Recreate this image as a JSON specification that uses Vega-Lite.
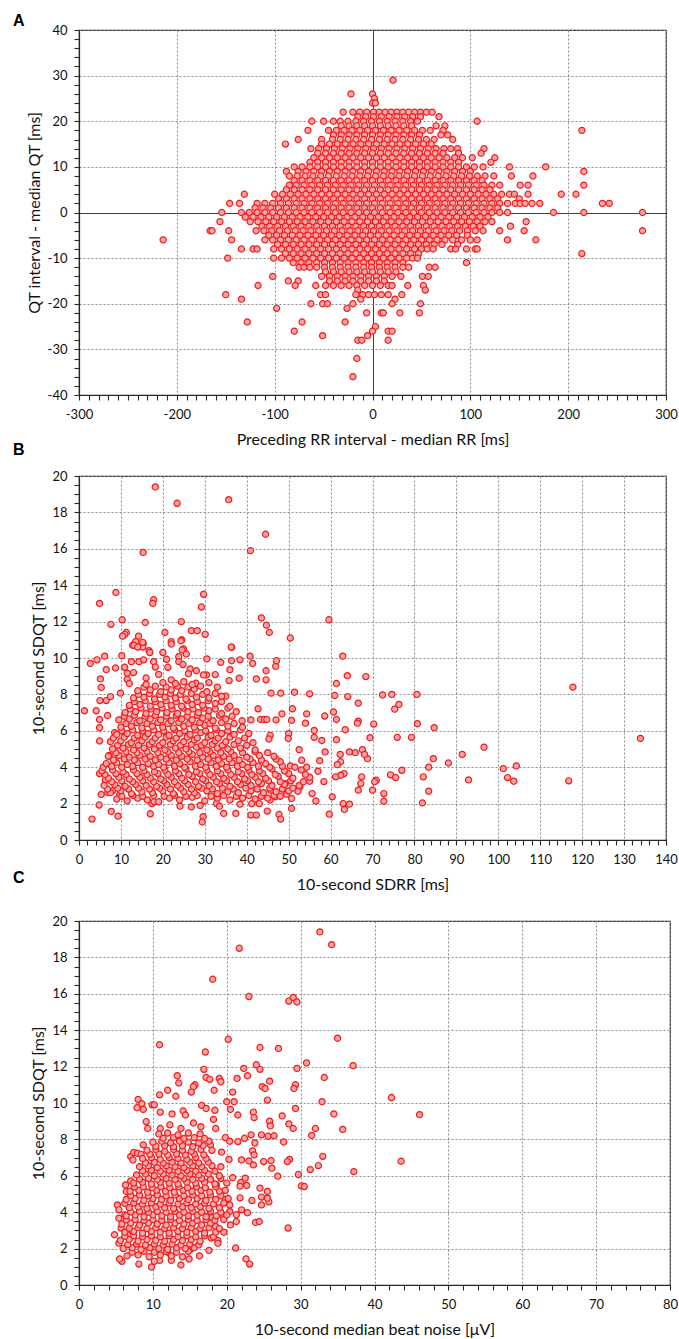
{
"$schema": "https://vega.github.io/schema/vega-lite/v6.json",
"background": "white",
"padding": {"left": 12, "top": 12, "right": 0, "bottom": 2},
"columns": 1,
"spacing": {"row": -7},
"align": "none",
"bounds": "full",
"config": {
"font": "Lato",
"view": {"stroke": "#262626", "strokeWidth": 1.2},
"axis": {"domainColor": "#262626", "domainWidth": 1.2, "tickColor": "#262626", "tickSize": 5, "tickWidth": 1.1, "labelFont": "Lato", "labelFontSize": 13, "labelColor": "#111", "titleFont": "Lato", "titleFontSize": 16, "titleFontWeight": "normal", "titleColor": "#111", "gridColor": "#8c8c8c", "gridDash": [2, 2], "gridWidth": 1, "labelOverlap": false, "labelBound": false, "labelFlush": false},
"axisX": {"labelPadding": 8, "titlePadding": 10},
"axisY": {"labelPadding": 7, "titlePadding": 5},
"title": {"font": "Liberation Sans", "fontSize": 16, "fontWeight": "bold", "color": "#000", "anchor": "start", "frame": "group", "baseline": "alphabetic"},
"circle": {"size": 38, "fill": "#f4a6a6", "stroke": "#f21b1b", "strokeWidth": 1.2, "opacity": 1, "fillOpacity": 1}
},
"datasets": {
"a": [
{"x":21,"y":29},{"x":-22,"y":26},{"x":0,"y":26},{"x":2,"y":25},{"x":0,"y":24},{"x":3,"y":24},
{"x":-30,"y":22},{"x":-20,"y":22},{"x":-13,"y":22},{"x":-6,"y":22},{"x":1,"y":22},{"x":7,"y":22},{"x":13,"y":22},{"x":19,"y":22},{"x":25,"y":22},{"x":31,"y":22},{"x":37,"y":22},{"x":43,"y":22},{"x":49,"y":22},{"x":55,"y":22},{"x":61,"y":22},
{"x":-15,"y":21},{"x":-7,"y":21},{"x":1,"y":21},{"x":9,"y":21},{"x":17,"y":21},{"x":25,"y":21},{"x":33,"y":21},{"x":41,"y":21},{"x":49,"y":21},{"x":68,"y":21},
{"x":-62,"y":20},{"x":-50,"y":20},{"x":-40,"y":20},{"x":-33,"y":20},{"x":-25,"y":20},{"x":-17,"y":20},{"x":-9,"y":20},{"x":-1,"y":20},{"x":7,"y":20},{"x":15,"y":20},{"x":23,"y":20},{"x":31,"y":20},{"x":39,"y":20},{"x":46,"y":20},{"x":107,"y":20},
{"x":-32,"y":19},{"x":-24,"y":19},{"x":-16,"y":19},{"x":-8,"y":19},{"x":0,"y":19},{"x":8,"y":19},{"x":16,"y":19},{"x":24,"y":19},{"x":32,"y":19},{"x":40,"y":19},{"x":65,"y":19},{"x":74,"y":19},
{"x":-66,"y":18},{"x":-45,"y":18},{"x":-37,"y":18},{"x":-29,"y":18},{"x":-21,"y":18},{"x":-13,"y":18},{"x":-5,"y":18},{"x":3,"y":18},{"x":11,"y":18},{"x":19,"y":18},{"x":27,"y":18},{"x":35,"y":18},{"x":43,"y":18},{"x":51,"y":18},{"x":59,"y":18},{"x":72,"y":18},{"x":214,"y":18},
{"x":-40,"y":17},{"x":-32,"y":17},{"x":-24,"y":17},{"x":-16,"y":17},{"x":-8,"y":17},{"x":0,"y":17},{"x":8,"y":17},{"x":16,"y":17},{"x":24,"y":17},{"x":32,"y":17},{"x":40,"y":17},{"x":48,"y":17},{"x":70,"y":17},{"x":77,"y":17},
{"x":-76,"y":16},{"x":-52,"y":16},{"x":-41,"y":16},{"x":-33,"y":16},{"x":-25,"y":16},{"x":-17,"y":16},{"x":-9,"y":16},{"x":-1,"y":16},{"x":7,"y":16},{"x":15,"y":16},{"x":23,"y":16},{"x":31,"y":16},{"x":39,"y":16},{"x":47,"y":16},{"x":55,"y":16},{"x":63,"y":16},{"x":82,"y":16},
{"x":-89,"y":15},{"x":-52,"y":15},{"x":-44,"y":15},{"x":-36,"y":15},{"x":-28,"y":15},{"x":-20,"y":15},{"x":-12,"y":15},{"x":-4,"y":15},{"x":4,"y":15},{"x":12,"y":15},{"x":20,"y":15},{"x":28,"y":15},{"x":36,"y":15},{"x":44,"y":15},{"x":52,"y":15},{"x":60,"y":15},
{"x":-63,"y":14},{"x":-55,"y":14},{"x":-47,"y":14},{"x":-39,"y":14},{"x":-31,"y":14},{"x":-23,"y":14},{"x":-15,"y":14},{"x":-7,"y":14},{"x":1,"y":14},{"x":9,"y":14},{"x":17,"y":14},{"x":25,"y":14},{"x":33,"y":14},{"x":41,"y":14},{"x":49,"y":14},{"x":57,"y":14},{"x":65,"y":14},{"x":73,"y":14},{"x":80,"y":14},{"x":87,"y":14},{"x":114,"y":14},
{"x":-56,"y":13},{"x":-48,"y":13},{"x":-40,"y":13},{"x":-32,"y":13},{"x":-24,"y":13},{"x":-16,"y":13},{"x":-8,"y":13},{"x":0,"y":13},{"x":8,"y":13},{"x":16,"y":13},{"x":24,"y":13},{"x":32,"y":13},{"x":40,"y":13},{"x":48,"y":13},{"x":56,"y":13},{"x":64,"y":13},{"x":72,"y":13},{"x":88,"y":13},{"x":111,"y":13},
{"x":-60,"y":12},{"x":-52,"y":12},{"x":-44,"y":12},{"x":-36,"y":12},{"x":-28,"y":12},{"x":-20,"y":12},{"x":-12,"y":12},{"x":-4,"y":12},{"x":4,"y":12},{"x":12,"y":12},{"x":20,"y":12},{"x":28,"y":12},{"x":36,"y":12},{"x":44,"y":12},{"x":52,"y":12},{"x":60,"y":12},{"x":68,"y":12},{"x":76,"y":12},{"x":84,"y":12},{"x":92,"y":12},{"x":102,"y":12},{"x":125,"y":12},
{"x":-64,"y":11},{"x":-56,"y":11},{"x":-48,"y":11},{"x":-40,"y":11},{"x":-32,"y":11},{"x":-24,"y":11},{"x":-16,"y":11},{"x":-8,"y":11},{"x":0,"y":11},{"x":8,"y":11},{"x":16,"y":11},{"x":24,"y":11},{"x":32,"y":11},{"x":40,"y":11},{"x":48,"y":11},{"x":56,"y":11},{"x":64,"y":11},{"x":72,"y":11},{"x":80,"y":11},{"x":88,"y":11},{"x":121,"y":11},
{"x":-80,"y":10},{"x":-72,"y":10},{"x":-64,"y":10},{"x":-56,"y":10},{"x":-48,"y":10},{"x":-40,"y":10},{"x":-32,"y":10},{"x":-24,"y":10},{"x":-16,"y":10},{"x":-8,"y":10},{"x":0,"y":10},{"x":8,"y":10},{"x":16,"y":10},{"x":24,"y":10},{"x":32,"y":10},{"x":40,"y":10},{"x":48,"y":10},{"x":56,"y":10},{"x":64,"y":10},{"x":72,"y":10},{"x":80,"y":10},{"x":88,"y":10},{"x":96,"y":10},{"x":104,"y":10},{"x":113,"y":10},{"x":140,"y":10},{"x":177,"y":10},
{"x":-88,"y":9},{"x":-76,"y":9},{"x":-68,"y":9},{"x":-60,"y":9},{"x":-52,"y":9},{"x":-44,"y":9},{"x":-36,"y":9},{"x":-28,"y":9},{"x":-20,"y":9},{"x":-12,"y":9},{"x":-4,"y":9},{"x":4,"y":9},{"x":12,"y":9},{"x":20,"y":9},{"x":28,"y":9},{"x":36,"y":9},{"x":44,"y":9},{"x":52,"y":9},{"x":60,"y":9},{"x":68,"y":9},{"x":76,"y":9},{"x":84,"y":9},{"x":92,"y":9},{"x":100,"y":9},{"x":216,"y":9},
{"x":-85,"y":8},{"x":-77,"y":8},{"x":-69,"y":8},{"x":-61,"y":8},{"x":-53,"y":8},{"x":-45,"y":8},{"x":-37,"y":8},{"x":-29,"y":8},{"x":-21,"y":8},{"x":-13,"y":8},{"x":-5,"y":8},{"x":3,"y":8},{"x":11,"y":8},{"x":19,"y":8},{"x":27,"y":8},{"x":35,"y":8},{"x":43,"y":8},{"x":51,"y":8},{"x":59,"y":8},{"x":67,"y":8},{"x":75,"y":8},{"x":83,"y":8},{"x":91,"y":8},{"x":99,"y":8},{"x":107,"y":8},{"x":115,"y":8},{"x":124,"y":8},{"x":142,"y":8},{"x":164,"y":8},
{"x":-80,"y":7},{"x":-72,"y":7},{"x":-64,"y":7},{"x":-56,"y":7},{"x":-48,"y":7},{"x":-40,"y":7},{"x":-32,"y":7},{"x":-24,"y":7},{"x":-16,"y":7},{"x":-8,"y":7},{"x":0,"y":7},{"x":8,"y":7},{"x":16,"y":7},{"x":24,"y":7},{"x":32,"y":7},{"x":40,"y":7},{"x":48,"y":7},{"x":56,"y":7},{"x":64,"y":7},{"x":72,"y":7},{"x":80,"y":7},{"x":88,"y":7},{"x":96,"y":7},{"x":104,"y":7},{"x":112,"y":7},
{"x":-85,"y":6},{"x":-78,"y":6},{"x":-70,"y":6},{"x":-62,"y":6},{"x":-54,"y":6},{"x":-46,"y":6},{"x":-38,"y":6},{"x":-30,"y":6},{"x":-22,"y":6},{"x":-14,"y":6},{"x":-6,"y":6},{"x":2,"y":6},{"x":10,"y":6},{"x":18,"y":6},{"x":26,"y":6},{"x":34,"y":6},{"x":42,"y":6},{"x":50,"y":6},{"x":58,"y":6},{"x":66,"y":6},{"x":74,"y":6},{"x":82,"y":6},{"x":90,"y":6},{"x":98,"y":6},{"x":106,"y":6},{"x":114,"y":6},{"x":122,"y":6},{"x":130,"y":6},{"x":151,"y":6},{"x":159,"y":6},{"x":216,"y":6},
{"x":-88,"y":5},{"x":-80,"y":5},{"x":-72,"y":5},{"x":-64,"y":5},{"x":-56,"y":5},{"x":-48,"y":5},{"x":-40,"y":5},{"x":-32,"y":5},{"x":-24,"y":5},{"x":-16,"y":5},{"x":-8,"y":5},{"x":0,"y":5},{"x":8,"y":5},{"x":16,"y":5},{"x":24,"y":5},{"x":32,"y":5},{"x":40,"y":5},{"x":48,"y":5},{"x":56,"y":5},{"x":64,"y":5},{"x":72,"y":5},{"x":80,"y":5},{"x":88,"y":5},{"x":96,"y":5},{"x":104,"y":5},{"x":112,"y":5},{"x":120,"y":5},
{"x":-131,"y":4},{"x":-100,"y":4},{"x":-92,"y":4},{"x":-84,"y":4},{"x":-76,"y":4},{"x":-68,"y":4},{"x":-60,"y":4},{"x":-52,"y":4},{"x":-44,"y":4},{"x":-36,"y":4},{"x":-28,"y":4},{"x":-20,"y":4},{"x":-12,"y":4},{"x":-4,"y":4},{"x":4,"y":4},{"x":12,"y":4},{"x":20,"y":4},{"x":28,"y":4},{"x":36,"y":4},{"x":44,"y":4},{"x":52,"y":4},{"x":60,"y":4},{"x":68,"y":4},{"x":76,"y":4},{"x":84,"y":4},{"x":92,"y":4},{"x":100,"y":4},{"x":108,"y":4},{"x":116,"y":4},{"x":124,"y":4},{"x":132,"y":4},{"x":140,"y":4},{"x":145,"y":4},{"x":159,"y":4},{"x":193,"y":4},{"x":208,"y":4},
{"x":-96,"y":3},{"x":-88,"y":3},{"x":-80,"y":3},{"x":-72,"y":3},{"x":-64,"y":3},{"x":-56,"y":3},{"x":-48,"y":3},{"x":-40,"y":3},{"x":-32,"y":3},{"x":-24,"y":3},{"x":-16,"y":3},{"x":-8,"y":3},{"x":0,"y":3},{"x":8,"y":3},{"x":16,"y":3},{"x":24,"y":3},{"x":32,"y":3},{"x":40,"y":3},{"x":48,"y":3},{"x":56,"y":3},{"x":64,"y":3},{"x":72,"y":3},{"x":80,"y":3},{"x":88,"y":3},{"x":96,"y":3},{"x":104,"y":3},{"x":112,"y":3},{"x":120,"y":3},{"x":128,"y":3},{"x":150,"y":3},
{"x":-146,"y":2},{"x":-136,"y":2},{"x":-118,"y":2},{"x":-110,"y":2},{"x":-102,"y":2},{"x":-94,"y":2},{"x":-86,"y":2},{"x":-78,"y":2},{"x":-70,"y":2},{"x":-62,"y":2},{"x":-54,"y":2},{"x":-46,"y":2},{"x":-38,"y":2},{"x":-30,"y":2},{"x":-22,"y":2},{"x":-14,"y":2},{"x":-6,"y":2},{"x":2,"y":2},{"x":10,"y":2},{"x":18,"y":2},{"x":26,"y":2},{"x":34,"y":2},{"x":42,"y":2},{"x":50,"y":2},{"x":58,"y":2},{"x":66,"y":2},{"x":74,"y":2},{"x":82,"y":2},{"x":90,"y":2},{"x":98,"y":2},{"x":106,"y":2},{"x":114,"y":2},{"x":122,"y":2},{"x":130,"y":2},{"x":138,"y":2},{"x":146,"y":2},{"x":151,"y":2},{"x":156,"y":2},{"x":163,"y":2},{"x":171,"y":2},{"x":235,"y":2},{"x":242,"y":2},
{"x":-120,"y":1},{"x":-112,"y":1},{"x":-104,"y":1},{"x":-96,"y":1},{"x":-88,"y":1},{"x":-80,"y":1},{"x":-72,"y":1},{"x":-64,"y":1},{"x":-56,"y":1},{"x":-48,"y":1},{"x":-40,"y":1},{"x":-32,"y":1},{"x":-24,"y":1},{"x":-16,"y":1},{"x":-8,"y":1},{"x":0,"y":1},{"x":8,"y":1},{"x":16,"y":1},{"x":24,"y":1},{"x":32,"y":1},{"x":40,"y":1},{"x":48,"y":1},{"x":56,"y":1},{"x":64,"y":1},{"x":72,"y":1},{"x":80,"y":1},{"x":88,"y":1},{"x":96,"y":1},{"x":104,"y":1},{"x":112,"y":1},{"x":120,"y":1},{"x":128,"y":1},
{"x":-154,"y":0},{"x":-134,"y":0},{"x":-126,"y":0},{"x":-118,"y":0},{"x":-110,"y":0},{"x":-102,"y":0},{"x":-94,"y":0},{"x":-86,"y":0},{"x":-78,"y":0},{"x":-70,"y":0},{"x":-62,"y":0},{"x":-54,"y":0},{"x":-46,"y":0},{"x":-38,"y":0},{"x":-30,"y":0},{"x":-22,"y":0},{"x":-14,"y":0},{"x":-6,"y":0},{"x":2,"y":0},{"x":10,"y":0},{"x":18,"y":0},{"x":26,"y":0},{"x":34,"y":0},{"x":42,"y":0},{"x":50,"y":0},{"x":58,"y":0},{"x":66,"y":0},{"x":74,"y":0},{"x":82,"y":0},{"x":90,"y":0},{"x":98,"y":0},{"x":106,"y":0},{"x":114,"y":0},{"x":122,"y":0},{"x":130,"y":0},{"x":138,"y":0},{"x":185,"y":0},{"x":216,"y":0},{"x":276,"y":0},
{"x":-130,"y":-1},{"x":-122,"y":-1},{"x":-114,"y":-1},{"x":-106,"y":-1},{"x":-98,"y":-1},{"x":-90,"y":-1},{"x":-82,"y":-1},{"x":-74,"y":-1},{"x":-66,"y":-1},{"x":-58,"y":-1},{"x":-50,"y":-1},{"x":-42,"y":-1},{"x":-34,"y":-1},{"x":-26,"y":-1},{"x":-18,"y":-1},{"x":-10,"y":-1},{"x":-2,"y":-1},{"x":6,"y":-1},{"x":14,"y":-1},{"x":22,"y":-1},{"x":30,"y":-1},{"x":38,"y":-1},{"x":46,"y":-1},{"x":54,"y":-1},{"x":62,"y":-1},{"x":70,"y":-1},{"x":78,"y":-1},{"x":86,"y":-1},{"x":94,"y":-1},{"x":102,"y":-1},{"x":110,"y":-1},{"x":118,"y":-1},
{"x":-156,"y":-2},{"x":-125,"y":-2},{"x":-117,"y":-2},{"x":-109,"y":-2},{"x":-101,"y":-2},{"x":-93,"y":-2},{"x":-85,"y":-2},{"x":-77,"y":-2},{"x":-69,"y":-2},{"x":-61,"y":-2},{"x":-53,"y":-2},{"x":-45,"y":-2},{"x":-37,"y":-2},{"x":-29,"y":-2},{"x":-21,"y":-2},{"x":-13,"y":-2},{"x":-5,"y":-2},{"x":3,"y":-2},{"x":11,"y":-2},{"x":19,"y":-2},{"x":27,"y":-2},{"x":35,"y":-2},{"x":43,"y":-2},{"x":51,"y":-2},{"x":59,"y":-2},{"x":67,"y":-2},{"x":75,"y":-2},{"x":83,"y":-2},{"x":91,"y":-2},{"x":99,"y":-2},{"x":107,"y":-2},{"x":115,"y":-2},{"x":122,"y":-2},{"x":157,"y":-2},
{"x":-113,"y":-3},{"x":-105,"y":-3},{"x":-97,"y":-3},{"x":-89,"y":-3},{"x":-81,"y":-3},{"x":-73,"y":-3},{"x":-65,"y":-3},{"x":-57,"y":-3},{"x":-49,"y":-3},{"x":-41,"y":-3},{"x":-33,"y":-3},{"x":-25,"y":-3},{"x":-17,"y":-3},{"x":-9,"y":-3},{"x":-1,"y":-3},{"x":7,"y":-3},{"x":15,"y":-3},{"x":23,"y":-3},{"x":31,"y":-3},{"x":39,"y":-3},{"x":47,"y":-3},{"x":55,"y":-3},{"x":63,"y":-3},{"x":71,"y":-3},{"x":79,"y":-3},{"x":87,"y":-3},{"x":95,"y":-3},{"x":103,"y":-3},{"x":110,"y":-3},{"x":141,"y":-3},
{"x":-166,"y":-4},{"x":-164,"y":-4},{"x":-147,"y":-4},{"x":-119,"y":-4},{"x":-111,"y":-4},{"x":-103,"y":-4},{"x":-95,"y":-4},{"x":-87,"y":-4},{"x":-79,"y":-4},{"x":-71,"y":-4},{"x":-63,"y":-4},{"x":-55,"y":-4},{"x":-47,"y":-4},{"x":-39,"y":-4},{"x":-31,"y":-4},{"x":-23,"y":-4},{"x":-15,"y":-4},{"x":-7,"y":-4},{"x":1,"y":-4},{"x":9,"y":-4},{"x":17,"y":-4},{"x":25,"y":-4},{"x":33,"y":-4},{"x":41,"y":-4},{"x":49,"y":-4},{"x":57,"y":-4},{"x":65,"y":-4},{"x":73,"y":-4},{"x":81,"y":-4},{"x":89,"y":-4},{"x":97,"y":-4},{"x":105,"y":-4},{"x":113,"y":-4},{"x":130,"y":-4},{"x":155,"y":-4},{"x":276,"y":-4},
{"x":-106,"y":-5},{"x":-98,"y":-5},{"x":-90,"y":-5},{"x":-82,"y":-5},{"x":-74,"y":-5},{"x":-66,"y":-5},{"x":-58,"y":-5},{"x":-50,"y":-5},{"x":-42,"y":-5},{"x":-34,"y":-5},{"x":-26,"y":-5},{"x":-18,"y":-5},{"x":-10,"y":-5},{"x":-2,"y":-5},{"x":6,"y":-5},{"x":14,"y":-5},{"x":22,"y":-5},{"x":30,"y":-5},{"x":38,"y":-5},{"x":46,"y":-5},{"x":54,"y":-5},{"x":62,"y":-5},{"x":70,"y":-5},{"x":78,"y":-5},{"x":86,"y":-5},{"x":97,"y":-5},
{"x":-214,"y":-6},{"x":-144,"y":-6},{"x":-110,"y":-6},{"x":-102,"y":-6},{"x":-94,"y":-6},{"x":-86,"y":-6},{"x":-78,"y":-6},{"x":-70,"y":-6},{"x":-62,"y":-6},{"x":-54,"y":-6},{"x":-46,"y":-6},{"x":-38,"y":-6},{"x":-30,"y":-6},{"x":-22,"y":-6},{"x":-14,"y":-6},{"x":-6,"y":-6},{"x":2,"y":-6},{"x":10,"y":-6},{"x":18,"y":-6},{"x":26,"y":-6},{"x":34,"y":-6},{"x":42,"y":-6},{"x":50,"y":-6},{"x":58,"y":-6},{"x":66,"y":-6},{"x":74,"y":-6},{"x":82,"y":-6},{"x":91,"y":-6},{"x":100,"y":-6},{"x":107,"y":-6},{"x":138,"y":-6},{"x":167,"y":-6},
{"x":-97,"y":-7},{"x":-89,"y":-7},{"x":-81,"y":-7},{"x":-73,"y":-7},{"x":-65,"y":-7},{"x":-57,"y":-7},{"x":-49,"y":-7},{"x":-41,"y":-7},{"x":-33,"y":-7},{"x":-25,"y":-7},{"x":-17,"y":-7},{"x":-9,"y":-7},{"x":-1,"y":-7},{"x":7,"y":-7},{"x":15,"y":-7},{"x":23,"y":-7},{"x":31,"y":-7},{"x":39,"y":-7},{"x":47,"y":-7},{"x":55,"y":-7},{"x":63,"y":-7},{"x":71,"y":-7},{"x":87,"y":-7},
{"x":-134,"y":-8},{"x":-122,"y":-8},{"x":-118,"y":-8},{"x":-101,"y":-8},{"x":-93,"y":-8},{"x":-85,"y":-8},{"x":-77,"y":-8},{"x":-69,"y":-8},{"x":-61,"y":-8},{"x":-53,"y":-8},{"x":-45,"y":-8},{"x":-37,"y":-8},{"x":-29,"y":-8},{"x":-21,"y":-8},{"x":-13,"y":-8},{"x":-5,"y":-8},{"x":3,"y":-8},{"x":11,"y":-8},{"x":19,"y":-8},{"x":27,"y":-8},{"x":35,"y":-8},{"x":43,"y":-8},{"x":50,"y":-8},{"x":56,"y":-8},{"x":62,"y":-8},{"x":80,"y":-8},{"x":85,"y":-8},{"x":96,"y":-8},{"x":105,"y":-8},{"x":107,"y":-8},
{"x":-89,"y":-9},{"x":-81,"y":-9},{"x":-73,"y":-9},{"x":-65,"y":-9},{"x":-57,"y":-9},{"x":-49,"y":-9},{"x":-41,"y":-9},{"x":-33,"y":-9},{"x":-25,"y":-9},{"x":-17,"y":-9},{"x":-9,"y":-9},{"x":-1,"y":-9},{"x":7,"y":-9},{"x":15,"y":-9},{"x":23,"y":-9},{"x":31,"y":-9},{"x":39,"y":-9},{"x":47,"y":-9},{"x":214,"y":-9},
{"x":-148,"y":-10},{"x":-101,"y":-10},{"x":-93,"y":-10},{"x":-85,"y":-10},{"x":-77,"y":-10},{"x":-69,"y":-10},{"x":-61,"y":-10},{"x":-53,"y":-10},{"x":-45,"y":-10},{"x":-37,"y":-10},{"x":-29,"y":-10},{"x":-21,"y":-10},{"x":-13,"y":-10},{"x":-5,"y":-10},{"x":3,"y":-10},{"x":11,"y":-10},{"x":19,"y":-10},{"x":27,"y":-10},{"x":35,"y":-10},{"x":41,"y":-10},{"x":46,"y":-10},
{"x":-81,"y":-11},{"x":-73,"y":-11},{"x":-65,"y":-11},{"x":-57,"y":-11},{"x":-49,"y":-11},{"x":-41,"y":-11},{"x":-33,"y":-11},{"x":-25,"y":-11},{"x":-17,"y":-11},{"x":-9,"y":-11},{"x":-1,"y":-11},{"x":7,"y":-11},{"x":15,"y":-11},{"x":23,"y":-11},{"x":31,"y":-11},{"x":96,"y":-11},
{"x":-75,"y":-12},{"x":-70,"y":-12},{"x":-64,"y":-12},{"x":-57,"y":-12},{"x":-49,"y":-12},{"x":-41,"y":-12},{"x":-33,"y":-12},{"x":-25,"y":-12},{"x":-17,"y":-12},{"x":-9,"y":-12},{"x":-1,"y":-12},{"x":7,"y":-12},{"x":15,"y":-12},{"x":23,"y":-12},{"x":31,"y":-12},{"x":37,"y":-12},{"x":58,"y":-12},{"x":64,"y":-12},
{"x":-48,"y":-13},{"x":-40,"y":-13},{"x":-32,"y":-13},{"x":-24,"y":-13},{"x":-16,"y":-13},{"x":-8,"y":-13},{"x":0,"y":-13},{"x":8,"y":-13},{"x":16,"y":-13},{"x":24,"y":-13},
{"x":-102,"y":-14},{"x":-52,"y":-14},{"x":-44,"y":-14},{"x":-36,"y":-14},{"x":-28,"y":-14},{"x":-20,"y":-14},{"x":-12,"y":-14},{"x":-4,"y":-14},{"x":4,"y":-14},{"x":12,"y":-14},{"x":20,"y":-14},{"x":29,"y":-14},{"x":51,"y":-14},{"x":57,"y":-14},
{"x":-86,"y":-15},{"x":-76,"y":-15},{"x":-44,"y":-15},{"x":-36,"y":-15},{"x":-28,"y":-15},{"x":-20,"y":-15},{"x":-12,"y":-15},{"x":-4,"y":-15},{"x":4,"y":-15},{"x":12,"y":-15},
{"x":-117,"y":-16},{"x":-79,"y":-16},{"x":-58,"y":-16},{"x":-48,"y":-16},{"x":-40,"y":-16},{"x":-32,"y":-16},{"x":-24,"y":-16},{"x":-16,"y":-16},{"x":-8,"y":-16},{"x":0,"y":-16},{"x":8,"y":-16},{"x":16,"y":-16},{"x":20,"y":-16},{"x":36,"y":-16},{"x":52,"y":-16},
{"x":54,"y":-17},{"x":-15,"y":-17},
{"x":-150,"y":-18},{"x":-53,"y":-18},{"x":-48,"y":-18},{"x":-17,"y":-18},{"x":-10,"y":-18},{"x":-4,"y":-18},{"x":2,"y":-18},{"x":9,"y":-18},{"x":16,"y":-18},{"x":30,"y":-18},
{"x":-134,"y":-19},{"x":-12,"y":-19},{"x":23,"y":-19},
{"x":-63,"y":-20},{"x":-51,"y":-20},{"x":-46,"y":-20},{"x":-20,"y":-20},{"x":20,"y":-20},{"x":49,"y":-20},
{"x":-98,"y":-21},{"x":-26,"y":-21},
{"x":-6,"y":-22},{"x":9,"y":-22},{"x":11,"y":-22},{"x":28,"y":-22},{"x":48,"y":-22},
{"x":-128,"y":-24},{"x":-72,"y":-24},{"x":-28,"y":-24},
{"x":3,"y":-25},
{"x":-80,"y":-26},{"x":0,"y":-26},{"x":16,"y":-26},{"x":20,"y":-26},
{"x":-51,"y":-27},{"x":-5,"y":-27},
{"x":-15,"y":-28},{"x":-11,"y":-28},{"x":16,"y":-28},
{"x":-16,"y":-32},{"x":-20,"y":-36}
],
"b": [
{"x":18.2,"y":19.4},{"x":23.4,"y":18.5},{"x":35.7,"y":18.7},{"x":44.5,"y":16.8},{"x":40.9,"y":15.9},{"x":15.3,"y":15.8},{"x":4.9,"y":13.0},{"x":8.8,"y":13.6},{"x":17.8,"y":13.2},{"x":17.6,"y":13.0},{"x":29.7,"y":13.5},{"x":29.2,"y":12.8},{"x":7.6,"y":11.85},{"x":10.3,"y":12.1},{"x":15.8,"y":11.95},{"x":24.4,"y":12.0},{"x":43.5,"y":12.2},{"x":44.7,"y":11.8},{"x":45.4,"y":11.4},{"x":59.6,"y":12.1},{"x":50.4,"y":11.1},{"x":20.5,"y":11.4},{"x":22,"y":10.9},{"x":24.5,"y":11.0},{"x":26.8,"y":11.5},{"x":28.2,"y":11.5},{"x":30.1,"y":11.3},{"x":11.3,"y":11.4},{"x":10.9,"y":11.3},{"x":10.4,"y":11.2},{"x":14.2,"y":11.2},{"x":12.8,"y":10.7},{"x":13.5,"y":10.9},{"x":15.3,"y":10.8},{"x":15.2,"y":10.6},{"x":36.4,"y":10.6},{"x":16.7,"y":10.4},{"x":24.9,"y":10.5},
{"x":133.9,"y":5.58},{"x":117.8,"y":8.4},{"x":116.8,"y":3.25},{"x":104.3,"y":4.07},{"x":101.2,"y":3.92},{"x":102.2,"y":3.43},{"x":103.7,"y":3.23},{"x":96.6,"y":5.1},{"x":91.4,"y":4.7},{"x":92.9,"y":3.3},{"x":88.1,"y":4.23},{"x":84.5,"y":4.47},{"x":84.7,"y":6.17},{"x":83.4,"y":4.0},{"x":83.4,"y":2.68},{"x":82.1,"y":3.47},{"x":81.9,"y":2.04},{"x":80.6,"y":8.0},{"x":80.7,"y":6.39},{"x":79.3,"y":5.64},{"x":75.9,"y":5.64},{"x":76.3,"y":7.45},{"x":75.3,"y":7.19},{"x":74.6,"y":8.0},{"x":72.4,"y":7.97},{"x":74.3,"y":3.58},{"x":75.5,"y":3.43},{"x":77,"y":3.83},{"x":72.7,"y":2.55},{"x":72.7,"y":2.13},{"x":70.9,"y":3.28},{"x":70.5,"y":3.2},{"x":70.3,"y":6.37},{"x":69.4,"y":5.62},{"x":70,"y":2.74},{"x":68.4,"y":8.98},{"x":68.8,"y":4.47},{"x":67.6,"y":4.96},{"x":68.1,"y":4.7},{"x":67.4,"y":3.47},{"x":67.2,"y":3.1},{"x":66.6,"y":6.53},{"x":66.4,"y":6.42},{"x":66.6,"y":7.52},{"x":66.6,"y":2.74},{"x":65.9,"y":4.8},{"x":64.5,"y":4.84},{"x":64.1,"y":7.88},{"x":64,"y":9.03},{"x":63.5,"y":6.06},{"x":62.9,"y":10.1},{"x":63,"y":2.0},{"x":64.5,"y":1.97},{"x":63.3,"y":1.68},{"x":63.2,"y":3.65},{"x":62.4,"y":3.56},{"x":62.3,"y":4.7},{"x":62.4,"y":4.3},{"x":61.4,"y":8.6},{"x":61.4,"y":6.62},{"x":60.7,"y":7.03},{"x":61,"y":7.94},{"x":61.4,"y":5.51},{"x":61.2,"y":3.47},{"x":61.6,"y":4.14},{"x":60.4,"y":2.37},{"x":59.7,"y":1.42},{"x":58.4,"y":3.21},{"x":58.7,"y":4.84},{"x":58.6,"y":6.81},{"x":57.9,"y":5.47},{"x":57.4,"y":4.36},{"x":57,"y":3.78},{"x":56.5,"y":2.14},{"x":56.1,"y":5.64},{"x":55.6,"y":2.55},{"x":56.1,"y":6.02},{"x":55,"y":8.03},{"x":54.3,"y":6.93},{"x":54.3,"y":4.0},{"x":55,"y":3.23},{"x":54,"y":6.42},{"x":53.1,"y":4.38},{"x":52.7,"y":2.92},{"x":52.2,"y":2.68},{"x":51.4,"y":8.12},{"x":50.9,"y":7.21},{"x":50.7,"y":6.57},{"x":52.5,"y":4.96},{"x":50.4,"y":4.07},{"x":50.6,"y":3.28},{"x":50,"y":5.84},{"x":49.9,"y":5.58},{"x":50.7,"y":2.28},{"x":50.7,"y":1.73},{"x":49.2,"y":3.1},{"x":48.4,"y":6.93},{"x":48.1,"y":8.07},{"x":46.9,"y":9.54},{"x":47.1,"y":9.85},{"x":45.8,"y":8.07},{"x":44.6,"y":9.3},{"x":44.6,"y":8.8},{"x":43.3,"y":6.62},{"x":44.2,"y":6.62},{"x":44.8,"y":6.62},{"x":47,"y":6.6},{"x":45.6,"y":5.75},{"x":45.3,"y":5.55},{"x":44.9,"y":1.59},{"x":47.7,"y":1.4},{"x":48.1,"y":1.15},{"x":42.7,"y":7.21},{"x":41.4,"y":9.7},{"x":40.8,"y":10.1},{"x":42.3,"y":8.85},{"x":41,"y":1.37},{"x":42.3,"y":1.37},{"x":38.2,"y":8.89},{"x":38.4,"y":9.9},{"x":38.9,"y":6.55},{"x":36.3,"y":10.6},{"x":36.4,"y":9.85},{"x":36,"y":9.36},{"x":35.8,"y":8.76},{"x":37.4,"y":1.46},{"x":33.8,"y":9.76},{"x":32.5,"y":9.09},{"x":30.5,"y":9.95},{"x":30.4,"y":9.07},{"x":29.7,"y":9.07},{"x":29.6,"y":1.28},{"x":29.4,"y":0.99},{"x":26.5,"y":9.4},{"x":27.9,"y":8.61},{"x":23.8,"y":10.07},{"x":23.8,"y":9.8},
{"x":1.3,"y":7.1},{"x":3.1,"y":1.15},{"x":2.7,"y":9.7},{"x":4.3,"y":9.9},{"x":6.1,"y":10.1},{"x":6.5,"y":9.36},{"x":5.1,"y":8.85},{"x":5.3,"y":8.38},{"x":5,"y":7.66},{"x":6.5,"y":7.66},{"x":6.8,"y":6.84},{"x":4.1,"y":7.1},{"x":4.9,"y":6.62},{"x":4.9,"y":6.17},{"x":4.9,"y":5.44},{"x":7.2,"y":4.65},{"x":4.9,"y":3.65},{"x":6.3,"y":3.3},{"x":5.3,"y":2.5},{"x":4.8,"y":1.92},{"x":7.7,"y":1.57},{"x":9.3,"y":1.31},{"x":6.9,"y":2.6},{"x":8,"y":2.7},{"x":9.7,"y":2.48},{"x":8.5,"y":5.9},{"x":7.5,"y":7.88},{"x":8.7,"y":9.45},{"x":9.9,"y":8.07},{"x":11.5,"y":8.83},{"x":10.9,"y":9.49},{"x":11.5,"y":9.16},{"x":10.2,"y":10.13},{"x":13.1,"y":10.7},{"x":14,"y":10.6},{"x":15.2,"y":10.86},{"x":16.9,"y":10.3},{"x":14.3,"y":9.8},{"x":15.4,"y":9.9},{"x":17.8,"y":9.8},{"x":18.2,"y":9.5},{"x":20.9,"y":9.93},{"x":21.2,"y":9.49},{"x":22,"y":10.77},{"x":24.6,"y":10.44},{"x":24.3,"y":10.95},{"x":25.6,"y":10.22},{"x":24.8,"y":9.64},{"x":26.1,"y":9.14},{"x":17,"y":1.44},{"x":17.4,"y":2.0},{"x":17.9,"y":2.1},{"x":24.1,"y":1.86},{"x":26.8,"y":1.82},{"x":28.9,"y":1.9},{"x":32.8,"y":2.0},{"x":33.5,"y":1.86},{"x":34.5,"y":1.46},{"x":38.4,"y":1.97},{"x":41.2,"y":2.0},{"x":43,"y":2.0},{"x":45.6,"y":2.2},{"x":49.5,"y":2.52},{"x":45.7,"y":2.74},{"x":46.8,"y":2.37},
{"x":13,"y":9.2},{"x":16,"y":8.9},{"x":19,"y":9.1},{"x":22,"y":8.8},{"x":25,"y":8.7},{"x":28,"y":9.3},{"x":33,"y":8.4},{"x":35,"y":7.9},{"x":12.5,"y":9.8},{"x":20,"y":10.3},
{"x":9,"y":2.25},{"x":11.5,"y":2.15},{"x":14,"y":2.3},{"x":16.3,"y":2.2},{"x":19,"y":2.1},{"x":21.6,"y":2.3},{"x":24,"y":2.2},{"x":27,"y":2.35},{"x":30,"y":2.15},{"x":33,"y":2.3},{"x":36,"y":2.2},{"x":39,"y":2.3},{"x":42,"y":2.25},{"x":45,"y":2.3},{"x":48,"y":2.4},
{"x":10.2,"y":2.4},{"x":12.8,"y":2.45},{"x":15.2,"y":2.4},{"x":17.8,"y":2.45},{"x":20.3,"y":2.4},{"x":22.8,"y":2.45},{"x":25.5,"y":2.4},{"x":28.2,"y":2.45},{"x":31.5,"y":2.4},{"x":34.5,"y":2.45},{"x":37.5,"y":2.4},{"x":40.5,"y":2.45},{"x":43.5,"y":2.4},{"x":46.5,"y":2.45},
{"x":7.5,"y":2.6},{"x":10,"y":2.7},{"x":12.5,"y":2.55},{"x":15,"y":2.65},{"x":17.5,"y":2.6},{"x":20,"y":2.7},{"x":22.5,"y":2.55},{"x":25,"y":2.65},{"x":27.5,"y":2.6},{"x":30.5,"y":2.7},{"x":33,"y":2.55},{"x":35.5,"y":2.65},{"x":38,"y":2.6},{"x":41,"y":2.7},{"x":44,"y":2.6},{"x":47,"y":2.65},{"x":50,"y":2.7},
{"x":6.8,"y":2.8},{"x":9.2,"y":2.85},{"x":11.8,"y":2.8},{"x":14.2,"y":2.85},{"x":16.8,"y":2.8},{"x":19.2,"y":2.85},{"x":21.8,"y":2.8},{"x":24.2,"y":2.85},{"x":26.8,"y":2.8},{"x":29.2,"y":2.85},{"x":31.8,"y":2.8},{"x":34.2,"y":2.85},{"x":36.8,"y":2.8},{"x":39.8,"y":2.85},{"x":42.5,"y":2.8},{"x":45.5,"y":2.85},{"x":48.5,"y":2.8},{"x":51,"y":2.85},
{"x":6,"y":3.0},{"x":8.5,"y":3.05},{"x":11,"y":2.95},{"x":13.5,"y":3.05},{"x":16,"y":3.0},{"x":18.5,"y":2.95},{"x":21,"y":3.05},{"x":23.5,"y":3.0},{"x":26,"y":3.05},{"x":28.5,"y":2.95},{"x":31,"y":3.0},{"x":33.5,"y":3.1},{"x":36,"y":2.95},{"x":38.5,"y":3.05},{"x":41,"y":3.0},{"x":43.5,"y":3.1},{"x":46,"y":3.0},{"x":49,"y":3.05},{"x":52.5,"y":3.0},
{"x":7.8,"y":3.2},{"x":10.2,"y":3.25},{"x":12.8,"y":3.2},{"x":15.2,"y":3.25},{"x":17.8,"y":3.2},{"x":20.2,"y":3.25},{"x":22.8,"y":3.2},{"x":25.2,"y":3.25},{"x":27.8,"y":3.2},{"x":30.2,"y":3.25},{"x":32.8,"y":3.2},{"x":35.2,"y":3.25},{"x":37.8,"y":3.2},{"x":40.2,"y":3.25},{"x":42.8,"y":3.2},{"x":45.2,"y":3.25},{"x":48,"y":3.2},{"x":50.5,"y":3.25},{"x":53.5,"y":3.2},
{"x":7,"y":3.4},{"x":9.5,"y":3.45},{"x":12,"y":3.35},{"x":14.5,"y":3.45},{"x":17,"y":3.4},{"x":19.5,"y":3.35},{"x":22,"y":3.45},{"x":24.5,"y":3.4},{"x":27,"y":3.5},{"x":29.5,"y":3.35},{"x":32,"y":3.45},{"x":34.5,"y":3.4},{"x":37,"y":3.45},{"x":39.5,"y":3.35},{"x":42,"y":3.45},{"x":44.5,"y":3.4},{"x":47.5,"y":3.5},{"x":51,"y":3.4},{"x":55,"y":3.45},
{"x":6.2,"y":3.6},{"x":8.8,"y":3.65},{"x":11.2,"y":3.6},{"x":13.8,"y":3.65},{"x":16.2,"y":3.6},{"x":18.8,"y":3.65},{"x":21.2,"y":3.6},{"x":23.8,"y":3.65},{"x":26.2,"y":3.6},{"x":28.8,"y":3.65},{"x":31.2,"y":3.6},{"x":33.8,"y":3.65},{"x":36.2,"y":3.6},{"x":38.8,"y":3.65},{"x":41.2,"y":3.6},{"x":43.8,"y":3.65},{"x":46.8,"y":3.6},{"x":50,"y":3.65},{"x":54,"y":3.6},
{"x":5.5,"y":3.8},{"x":8,"y":3.85},{"x":10.5,"y":3.75},{"x":13,"y":3.85},{"x":15.5,"y":3.8},{"x":18,"y":3.75},{"x":20.5,"y":3.85},{"x":23,"y":3.8},{"x":25.5,"y":3.9},{"x":28,"y":3.75},{"x":30.5,"y":3.85},{"x":33,"y":3.8},{"x":35.5,"y":3.85},{"x":38,"y":3.75},{"x":40.5,"y":3.85},{"x":43,"y":3.8},{"x":46,"y":3.9},{"x":49,"y":3.8},{"x":53,"y":3.85},
{"x":5.8,"y":4.0},{"x":7.8,"y":4.05},{"x":10.2,"y":4.0},{"x":12.8,"y":4.05},{"x":15.2,"y":4.0},{"x":17.8,"y":4.05},{"x":20.2,"y":4.0},{"x":22.8,"y":4.05},{"x":25.2,"y":4.0},{"x":27.8,"y":4.05},{"x":30.2,"y":4.0},{"x":32.8,"y":4.05},{"x":35.2,"y":4.0},{"x":37.8,"y":4.05},{"x":40.2,"y":4.0},{"x":42.8,"y":4.05},{"x":45.5,"y":4.0},{"x":48.5,"y":4.05},{"x":51.5,"y":4.0},
{"x":6.5,"y":4.2},{"x":9,"y":4.25},{"x":11.5,"y":4.15},{"x":14,"y":4.25},{"x":16.5,"y":4.2},{"x":19,"y":4.15},{"x":21.5,"y":4.25},{"x":24,"y":4.2},{"x":26.5,"y":4.3},{"x":29,"y":4.15},{"x":31.5,"y":4.25},{"x":34,"y":4.2},{"x":36.5,"y":4.25},{"x":39,"y":4.15},{"x":41.5,"y":4.25},{"x":44.5,"y":4.2},{"x":48,"y":4.3},
{"x":8.2,"y":4.4},{"x":10.8,"y":4.45},{"x":13.2,"y":4.4},{"x":15.8,"y":4.45},{"x":18.2,"y":4.4},{"x":20.8,"y":4.45},{"x":23.2,"y":4.4},{"x":25.8,"y":4.45},{"x":28.2,"y":4.4},{"x":30.8,"y":4.45},{"x":33.2,"y":4.4},{"x":35.8,"y":4.45},{"x":38.2,"y":4.4},{"x":40.8,"y":4.45},{"x":43.5,"y":4.4},{"x":47,"y":4.45},
{"x":7,"y":4.6},{"x":9.5,"y":4.65},{"x":12,"y":4.55},{"x":14.5,"y":4.65},{"x":17,"y":4.6},{"x":19.5,"y":4.55},{"x":22,"y":4.65},{"x":24.5,"y":4.6},{"x":27,"y":4.7},{"x":29.5,"y":4.55},{"x":32,"y":4.65},{"x":34.5,"y":4.6},{"x":37,"y":4.65},{"x":40,"y":4.55},{"x":43,"y":4.65},{"x":46.5,"y":4.6},
{"x":8.8,"y":4.8},{"x":11.2,"y":4.85},{"x":13.8,"y":4.8},{"x":16.2,"y":4.85},{"x":18.8,"y":4.8},{"x":21.2,"y":4.85},{"x":23.8,"y":4.8},{"x":26.2,"y":4.85},{"x":28.8,"y":4.8},{"x":31.2,"y":4.85},{"x":33.8,"y":4.8},{"x":36.2,"y":4.85},{"x":39,"y":4.8},{"x":42,"y":4.85},{"x":45,"y":4.8},
{"x":8,"y":5.0},{"x":10.5,"y":5.05},{"x":13,"y":4.95},{"x":15.5,"y":5.05},{"x":18,"y":5.0},{"x":20.5,"y":4.95},{"x":23,"y":5.05},{"x":25.5,"y":5.0},{"x":28,"y":5.1},{"x":30.5,"y":4.95},{"x":33,"y":5.05},{"x":35.5,"y":5.0},{"x":38.5,"y":5.05},{"x":42,"y":4.95},
{"x":9.2,"y":5.2},{"x":11.8,"y":5.25},{"x":14.2,"y":5.2},{"x":16.8,"y":5.25},{"x":19.2,"y":5.2},{"x":21.8,"y":5.25},{"x":24.2,"y":5.2},{"x":26.8,"y":5.25},{"x":29.2,"y":5.2},{"x":31.8,"y":5.25},{"x":34.2,"y":5.2},{"x":37,"y":5.25},{"x":40,"y":5.2},
{"x":7.5,"y":5.4},{"x":10,"y":5.45},{"x":12.5,"y":5.35},{"x":15,"y":5.45},{"x":17.5,"y":5.4},{"x":20,"y":5.35},{"x":22.5,"y":5.45},{"x":25,"y":5.4},{"x":27.5,"y":5.5},{"x":30,"y":5.35},{"x":32.5,"y":5.45},{"x":35,"y":5.4},{"x":38,"y":5.45},{"x":41.5,"y":5.35},
{"x":8.2,"y":5.6},{"x":10.8,"y":5.65},{"x":13.2,"y":5.6},{"x":15.8,"y":5.65},{"x":18.2,"y":5.6},{"x":20.8,"y":5.65},{"x":23.2,"y":5.6},{"x":25.8,"y":5.65},{"x":28.2,"y":5.6},{"x":30.8,"y":5.65},{"x":33.2,"y":5.6},{"x":36,"y":5.65},{"x":39.5,"y":5.6},
{"x":9,"y":5.8},{"x":11.5,"y":5.85},{"x":14,"y":5.75},{"x":16.5,"y":5.85},{"x":19,"y":5.8},{"x":21.5,"y":5.75},{"x":24,"y":5.85},{"x":26.5,"y":5.8},{"x":29,"y":5.9},{"x":31.5,"y":5.75},{"x":34,"y":5.85},{"x":37,"y":5.8},{"x":40.5,"y":5.85},
{"x":10.2,"y":6.0},{"x":12.8,"y":6.05},{"x":15.2,"y":6.0},{"x":17.8,"y":6.05},{"x":20.2,"y":6.0},{"x":22.8,"y":6.05},{"x":25.2,"y":6.0},{"x":27.8,"y":6.05},{"x":30.2,"y":6.0},{"x":32.8,"y":6.05},{"x":35.5,"y":6.0},{"x":38.5,"y":6.05},
{"x":10,"y":6.2},{"x":12.5,"y":6.25},{"x":15,"y":6.15},{"x":17.5,"y":6.25},{"x":20,"y":6.2},{"x":22.5,"y":6.15},{"x":25,"y":6.25},{"x":27.5,"y":6.2},{"x":30,"y":6.3},{"x":32.5,"y":6.15},{"x":35.5,"y":6.25},{"x":39,"y":6.2},
{"x":11.2,"y":6.4},{"x":13.8,"y":6.45},{"x":16.2,"y":6.4},{"x":18.8,"y":6.45},{"x":21.2,"y":6.4},{"x":23.8,"y":6.45},{"x":26.2,"y":6.4},{"x":28.8,"y":6.45},{"x":31.2,"y":6.4},{"x":34,"y":6.45},{"x":37,"y":6.4},
{"x":9.5,"y":6.6},{"x":12,"y":6.65},{"x":14.5,"y":6.55},{"x":17,"y":6.65},{"x":19.5,"y":6.6},{"x":22,"y":6.55},{"x":24.5,"y":6.65},{"x":27,"y":6.6},{"x":29.5,"y":6.7},{"x":32,"y":6.55},{"x":35,"y":6.65},{"x":41,"y":6.6},
{"x":10.8,"y":6.8},{"x":13.2,"y":6.85},{"x":15.8,"y":6.8},{"x":18.2,"y":6.85},{"x":20.8,"y":6.8},{"x":23.2,"y":6.85},{"x":25.8,"y":6.8},{"x":28.2,"y":6.85},{"x":30.8,"y":6.8},{"x":33.5,"y":6.85},{"x":36.5,"y":6.8},
{"x":11,"y":7.0},{"x":13.5,"y":7.05},{"x":16,"y":6.95},{"x":18.5,"y":7.05},{"x":21,"y":7.0},{"x":23.5,"y":6.95},{"x":26,"y":7.05},{"x":28.5,"y":7.0},{"x":31,"y":7.1},{"x":34,"y":6.95},{"x":37.5,"y":7.05},
{"x":12.2,"y":7.2},{"x":14.8,"y":7.25},{"x":17.2,"y":7.2},{"x":19.8,"y":7.25},{"x":22.2,"y":7.2},{"x":24.8,"y":7.25},{"x":27.2,"y":7.2},{"x":29.8,"y":7.25},{"x":32.5,"y":7.2},{"x":35.5,"y":7.25},
{"x":12,"y":7.4},{"x":14.5,"y":7.45},{"x":17,"y":7.35},{"x":19.5,"y":7.45},{"x":22,"y":7.4},{"x":24.5,"y":7.35},{"x":27,"y":7.45},{"x":29.5,"y":7.4},{"x":32.5,"y":7.5},{"x":36,"y":7.35},
{"x":13.2,"y":7.6},{"x":15.8,"y":7.65},{"x":18.2,"y":7.6},{"x":20.8,"y":7.65},{"x":23.2,"y":7.6},{"x":25.8,"y":7.65},{"x":28.2,"y":7.6},{"x":30.8,"y":7.65},{"x":34,"y":7.6},
{"x":13,"y":7.8},{"x":15.5,"y":7.85},{"x":18,"y":7.75},{"x":20.5,"y":7.85},{"x":23,"y":7.8},{"x":25.5,"y":7.75},{"x":28,"y":7.85},{"x":31,"y":7.8},{"x":34,"y":7.9},
{"x":14.2,"y":8.0},{"x":16.8,"y":8.05},{"x":19.2,"y":8.0},{"x":21.8,"y":8.05},{"x":24.2,"y":8.0},{"x":26.8,"y":8.05},{"x":29.5,"y":8.0},{"x":32.5,"y":8.05},
{"x":14,"y":8.2},{"x":17,"y":8.25},{"x":19.5,"y":8.15},{"x":22,"y":8.25},{"x":24.5,"y":8.2},{"x":27.5,"y":8.3},{"x":30.5,"y":8.15},
{"x":15.5,"y":8.4},{"x":18.2,"y":8.45},{"x":20.8,"y":8.4},{"x":23.5,"y":8.45},{"x":26,"y":8.4},{"x":29,"y":8.45},
{"x":12,"y":8.6},{"x":16,"y":8.55},{"x":20,"y":8.65},{"x":23,"y":8.6},{"x":27,"y":8.55},{"x":31,"y":8.65}
],
"c": [
{"x":32.6,"y":19.4},{"x":34.2,"y":18.7},{"x":21.7,"y":18.5},{"x":18.1,"y":16.8},{"x":23,"y":15.85},{"x":28.4,"y":15.6},{"x":29,"y":15.8},{"x":29.5,"y":15.55},{"x":35,"y":13.56},{"x":20.2,"y":13.5},{"x":10.9,"y":13.2},{"x":24.5,"y":13.05},{"x":27,"y":13.0},{"x":17.1,"y":12.8},{"x":30.8,"y":12.2},{"x":37.1,"y":12.05},{"x":24,"y":12.1},{"x":22.3,"y":11.9},{"x":24.5,"y":11.85},{"x":29.5,"y":11.9},{"x":16.9,"y":11.85},{"x":13.3,"y":11.5},{"x":33.2,"y":11.4},{"x":17.2,"y":11.4},{"x":17.7,"y":11.3},{"x":22.8,"y":11.5},{"x":21.4,"y":11.35},{"x":19,"y":11.35},{"x":19.2,"y":11.17},{"x":25.8,"y":11.2},{"x":24.8,"y":10.9},{"x":25.2,"y":10.8},{"x":29.3,"y":11.0},{"x":29.1,"y":10.8},{"x":15.7,"y":11.0},{"x":15.5,"y":10.9},{"x":13.5,"y":11.1},{"x":12,"y":10.7},{"x":10.9,"y":10.45},{"x":15.2,"y":10.6},{"x":18.3,"y":10.7},{"x":20.8,"y":10.6},{"x":13.1,"y":10.37},{"x":42.3,"y":10.3},{"x":8,"y":10.2},{"x":8.5,"y":9.96},{"x":9.9,"y":9.9},{"x":10.2,"y":9.9},{"x":8.7,"y":9.65},{"x":7.85,"y":9.74},{"x":32.9,"y":10.07},{"x":25.5,"y":10.16},{"x":21,"y":10.07},{"x":20,"y":10.07},{"x":20.5,"y":9.65},{"x":46.1,"y":9.36},{"x":34.5,"y":9.4},{"x":29.3,"y":9.7},{"x":27.5,"y":9.29},{"x":23.6,"y":9.5},{"x":23.7,"y":9.2},{"x":21.5,"y":9.34},{"x":18.4,"y":9.6},{"x":16.6,"y":9.87},{"x":17.2,"y":9.7},{"x":14.1,"y":9.56},{"x":14.4,"y":9.34},{"x":12.6,"y":9.4},{"x":11,"y":9.5},{"x":9.1,"y":8.98},{"x":9.3,"y":8.6},{"x":25.8,"y":9.0},{"x":25.9,"y":8.74},{"x":28.4,"y":8.85},{"x":29,"y":8.6},{"x":32,"y":8.6},{"x":35.7,"y":8.55},{"x":31.5,"y":8.22},{"x":24.7,"y":8.25},{"x":25.6,"y":8.17},{"x":26.4,"y":8.2},{"x":27.7,"y":7.86},{"x":22.4,"y":8.06},{"x":23.3,"y":8.25},{"x":23.8,"y":7.8},{"x":23.5,"y":7.37},{"x":23.7,"y":7.15},{"x":21.5,"y":7.88},{"x":19.8,"y":8.1},{"x":20.4,"y":7.9},{"x":33,"y":7.07},{"x":28.5,"y":6.9},{"x":28.2,"y":6.78},{"x":32.4,"y":6.56},{"x":31.3,"y":6.34},{"x":37.2,"y":6.23},{"x":43.6,"y":6.8},{"x":26.9,"y":5.98},{"x":29.7,"y":6.07},{"x":30.1,"y":5.45},{"x":30.5,"y":5.41},{"x":26.1,"y":6.42},{"x":26,"y":6.84},{"x":25,"y":6.78},{"x":23.6,"y":6.6},{"x":23,"y":6.82},{"x":22,"y":6.87},{"x":22.5,"y":5.87},{"x":22.7,"y":5.47},{"x":21.9,"y":5.63},{"x":21.8,"y":5.43},{"x":24.5,"y":5.32},{"x":24.7,"y":4.83},{"x":25.5,"y":5.14},{"x":25.7,"y":4.57},{"x":25.5,"y":4.77},{"x":24.7,"y":4.4},{"x":23.4,"y":4.64},{"x":21.8,"y":4.79},{"x":22,"y":4.13},{"x":22.8,"y":3.97},{"x":23.9,"y":3.44},{"x":24.4,"y":3.49},{"x":28.3,"y":3.13},{"x":20.4,"y":4.4},{"x":20.4,"y":4.04},{"x":21.3,"y":3.86},{"x":21.3,"y":3.49},{"x":21.2,"y":2.03},{"x":22.6,"y":1.43},{"x":23.1,"y":1.15},{"x":19.5,"y":3.8},{"x":18.8,"y":2.45},{"x":18.8,"y":2.3},{"x":18.5,"y":3.22},{"x":18,"y":3.71},{"x":17.9,"y":2.58},{"x":14.9,"y":1.43},{"x":15.1,"y":1.96},{"x":12.5,"y":1.35},{"x":10.9,"y":1.35},{"x":9.8,"y":0.99},{"x":10.2,"y":1.3},{"x":8.1,"y":1.15},{"x":5.8,"y":1.3},{"x":5.5,"y":1.43},{"x":4.8,"y":2.76},{"x":5.2,"y":4.4},{"x":5.4,"y":4.13},{"x":5.4,"y":3.67},{"x":5.7,"y":3.13},{"x":5.4,"y":2.3},{"x":6.2,"y":3.86},{"x":6.6,"y":2.76},{"x":6.3,"y":5.5},{"x":6.4,"y":5.14},{"x":7,"y":5.72},{"x":7,"y":7.06},{"x":7.3,"y":6.87},{"x":7.4,"y":7.28},{"x":7.9,"y":7.24},{"x":8.7,"y":7.7},{"x":8.4,"y":7.18},
{"x":18.5,"y":8.6},{"x":19.2,"y":6.5},{"x":20.3,"y":6.9},{"x":18.6,"y":5.5},{"x":19.8,"y":5.2},{"x":20.8,"y":5.9},{"x":19.3,"y":7.3},{"x":17.8,"y":7.7},{"x":18.2,"y":9.1},{"x":16.5,"y":8.7},{"x":15.5,"y":8.9},{"x":13.8,"y":8.6},{"x":12.3,"y":8.8},{"x":11,"y":8.6},{"x":19.8,"y":4.7},{"x":20.5,"y":3.3},{"x":19.6,"y":2.9},{"x":17.6,"y":1.9},{"x":16.3,"y":1.6},{"x":13.8,"y":1.1},{"x":12,"y":1.8},
{"x":6.5,"y":1.6},{"x":8,"y":1.65},{"x":9.5,"y":1.55},{"x":11,"y":1.65},{"x":12.5,"y":1.6},{"x":14,"y":1.55},
{"x":7.2,"y":1.8},{"x":8.8,"y":1.85},{"x":10.2,"y":1.8},{"x":11.8,"y":1.85},{"x":13.2,"y":1.8},{"x":14.8,"y":1.85},
{"x":6,"y":2.0},{"x":7.2,"y":2.05},{"x":8.4,"y":1.95},{"x":9.6,"y":2.05},{"x":10.8,"y":2.0},{"x":12,"y":1.95},{"x":13.2,"y":2.05},{"x":14.4,"y":2.0},{"x":15.6,"y":2.05},
{"x":6.6,"y":2.22},{"x":7.8,"y":2.25},{"x":9,"y":2.2},{"x":10.2,"y":2.25},{"x":11.4,"y":2.2},{"x":12.6,"y":2.25},{"x":13.8,"y":2.2},{"x":15,"y":2.25},{"x":16.2,"y":2.2},
{"x":5.6,"y":2.45},{"x":6.8,"y":2.5},{"x":8,"y":2.4},{"x":9.2,"y":2.5},{"x":10.4,"y":2.45},{"x":11.6,"y":2.4},{"x":12.8,"y":2.5},{"x":14,"y":2.45},{"x":15.2,"y":2.5},{"x":16.4,"y":2.4},
{"x":6.2,"y":2.68},{"x":7.4,"y":2.7},{"x":8.6,"y":2.65},{"x":9.8,"y":2.7},{"x":11,"y":2.65},{"x":12.2,"y":2.7},{"x":13.4,"y":2.65},{"x":14.6,"y":2.7},{"x":15.8,"y":2.65},{"x":17,"y":2.7},{"x":18.2,"y":2.65},
{"x":6.2,"y":2.9},{"x":7.4,"y":2.95},{"x":8.6,"y":2.85},{"x":9.8,"y":2.95},{"x":11,"y":2.9},{"x":12.2,"y":2.85},{"x":13.4,"y":2.95},{"x":14.6,"y":2.9},{"x":15.8,"y":2.95},{"x":17,"y":2.85},{"x":18.5,"y":2.9},
{"x":6.8,"y":3.12},{"x":8,"y":3.15},{"x":9.2,"y":3.1},{"x":10.4,"y":3.15},{"x":11.6,"y":3.1},{"x":12.8,"y":3.15},{"x":14,"y":3.1},{"x":15.2,"y":3.15},{"x":16.4,"y":3.1},{"x":17.6,"y":3.15},{"x":19,"y":3.1},
{"x":5.8,"y":3.35},{"x":7,"y":3.4},{"x":8.2,"y":3.3},{"x":9.4,"y":3.4},{"x":10.6,"y":3.35},{"x":11.8,"y":3.3},{"x":13,"y":3.4},{"x":14.2,"y":3.35},{"x":15.4,"y":3.4},{"x":16.6,"y":3.3},{"x":17.8,"y":3.4},
{"x":6.4,"y":3.58},{"x":7.6,"y":3.6},{"x":8.8,"y":3.55},{"x":10,"y":3.6},{"x":11.2,"y":3.55},{"x":12.4,"y":3.6},{"x":13.6,"y":3.55},{"x":14.8,"y":3.6},{"x":16,"y":3.55},{"x":17.2,"y":3.6},{"x":18.4,"y":3.55},{"x":19.6,"y":3.6},
{"x":6.4,"y":3.8},{"x":7.6,"y":3.85},{"x":8.8,"y":3.75},{"x":10,"y":3.85},{"x":11.2,"y":3.8},{"x":12.4,"y":3.75},{"x":13.6,"y":3.85},{"x":14.8,"y":3.8},{"x":16,"y":3.85},{"x":17.2,"y":3.75},{"x":18.6,"y":3.8},{"x":20,"y":3.85},
{"x":7,"y":4.02},{"x":8.2,"y":4.05},{"x":9.4,"y":4.0},{"x":10.6,"y":4.05},{"x":11.8,"y":4.0},{"x":13,"y":4.05},{"x":14.2,"y":4.0},{"x":15.4,"y":4.05},{"x":16.6,"y":4.0},{"x":17.8,"y":4.05},{"x":19.2,"y":4.0},
{"x":6.8,"y":4.25},{"x":8,"y":4.3},{"x":9.2,"y":4.2},{"x":10.4,"y":4.3},{"x":11.6,"y":4.25},{"x":12.8,"y":4.2},{"x":14,"y":4.3},{"x":15.2,"y":4.25},{"x":16.4,"y":4.3},{"x":17.6,"y":4.2},{"x":19,"y":4.25},
{"x":6.2,"y":4.48},{"x":7.4,"y":4.5},{"x":8.6,"y":4.45},{"x":9.8,"y":4.5},{"x":11,"y":4.45},{"x":12.2,"y":4.5},{"x":13.4,"y":4.45},{"x":14.6,"y":4.5},{"x":15.8,"y":4.45},{"x":17,"y":4.5},{"x":18.2,"y":4.45},{"x":19.6,"y":4.5},
{"x":6.4,"y":4.7},{"x":7.6,"y":4.75},{"x":8.8,"y":4.65},{"x":10,"y":4.75},{"x":11.2,"y":4.7},{"x":12.4,"y":4.65},{"x":13.6,"y":4.75},{"x":14.8,"y":4.7},{"x":16,"y":4.75},{"x":17.2,"y":4.65},{"x":18.5,"y":4.7},{"x":20.2,"y":4.75},
{"x":7,"y":4.92},{"x":8.2,"y":4.95},{"x":9.4,"y":4.9},{"x":10.6,"y":4.95},{"x":11.8,"y":4.9},{"x":13,"y":4.95},{"x":14.2,"y":4.9},{"x":15.4,"y":4.95},{"x":16.6,"y":4.9},{"x":17.8,"y":4.95},{"x":19.2,"y":4.9},
{"x":6.9,"y":5.15},{"x":8.1,"y":5.2},{"x":9.3,"y":5.1},{"x":10.5,"y":5.2},{"x":11.7,"y":5.15},{"x":12.9,"y":5.1},{"x":14.1,"y":5.2},{"x":15.3,"y":5.15},{"x":16.5,"y":5.2},{"x":17.7,"y":5.1},{"x":19,"y":5.15},
{"x":7.5,"y":5.38},{"x":8.7,"y":5.4},{"x":9.9,"y":5.35},{"x":11.1,"y":5.4},{"x":12.3,"y":5.35},{"x":13.5,"y":5.4},{"x":14.7,"y":5.35},{"x":15.9,"y":5.4},{"x":17.1,"y":5.35},{"x":18.5,"y":5.4},
{"x":7.4,"y":5.6},{"x":8.6,"y":5.65},{"x":9.8,"y":5.55},{"x":11,"y":5.65},{"x":12.2,"y":5.6},{"x":13.4,"y":5.55},{"x":14.6,"y":5.65},{"x":15.8,"y":5.6},{"x":17,"y":5.65},{"x":18.4,"y":5.55},{"x":20,"y":5.6},
{"x":8.2,"y":5.82},{"x":9.4,"y":5.85},{"x":10.6,"y":5.8},{"x":11.8,"y":5.85},{"x":13,"y":5.8},{"x":14.2,"y":5.85},{"x":15.4,"y":5.8},{"x":16.6,"y":5.85},{"x":17.8,"y":5.8},{"x":19.2,"y":5.85},
{"x":7.8,"y":6.05},{"x":9,"y":6.1},{"x":10.2,"y":6.0},{"x":11.4,"y":6.1},{"x":12.6,"y":6.05},{"x":13.8,"y":6.0},{"x":15,"y":6.1},{"x":16.2,"y":6.05},{"x":17.5,"y":6.1},{"x":19,"y":6.0},
{"x":8.6,"y":6.28},{"x":9.8,"y":6.3},{"x":11,"y":6.25},{"x":12.2,"y":6.3},{"x":13.4,"y":6.25},{"x":14.6,"y":6.3},{"x":15.8,"y":6.25},{"x":17,"y":6.3},{"x":18.4,"y":6.25},
{"x":8.2,"y":6.5},{"x":9.4,"y":6.55},{"x":10.6,"y":6.45},{"x":11.8,"y":6.55},{"x":13,"y":6.5},{"x":14.2,"y":6.45},{"x":15.4,"y":6.55},{"x":16.6,"y":6.5},{"x":18,"y":6.55},
{"x":9,"y":6.72},{"x":10.2,"y":6.75},{"x":11.4,"y":6.7},{"x":12.6,"y":6.75},{"x":13.8,"y":6.7},{"x":15,"y":6.75},{"x":16.2,"y":6.7},{"x":17.5,"y":6.75},
{"x":8.6,"y":6.95},{"x":9.8,"y":7.0},{"x":11,"y":6.9},{"x":12.2,"y":7.0},{"x":13.4,"y":6.95},{"x":14.6,"y":6.9},{"x":15.8,"y":7.0},{"x":17.2,"y":6.95},
{"x":9.6,"y":7.18},{"x":10.8,"y":7.2},{"x":12,"y":7.15},{"x":13.2,"y":7.2},{"x":14.4,"y":7.15},{"x":15.6,"y":7.2},{"x":16.9,"y":7.15},
{"x":9.2,"y":7.4},{"x":10.4,"y":7.45},{"x":11.6,"y":7.35},{"x":12.8,"y":7.45},{"x":14,"y":7.4},{"x":15.2,"y":7.35},{"x":16.5,"y":7.45},{"x":18,"y":7.4},
{"x":10.4,"y":7.62},{"x":11.6,"y":7.65},{"x":12.8,"y":7.6},{"x":14,"y":7.65},{"x":15.4,"y":7.6},{"x":16.8,"y":7.65},
{"x":10,"y":7.85},{"x":11.2,"y":7.9},{"x":12.4,"y":7.8},{"x":13.6,"y":7.9},{"x":14.8,"y":7.85},{"x":16.2,"y":7.8},{"x":17.6,"y":7.9},
{"x":11.4,"y":8.07},{"x":12.8,"y":8.1},{"x":14.2,"y":8.05},{"x":15.6,"y":8.1},{"x":17,"y":8.05},
{"x":10.8,"y":8.3},{"x":12,"y":8.35},{"x":13.4,"y":8.25},{"x":14.8,"y":8.35},{"x":16.4,"y":8.3}
]
},
"concat": [
{
"title": {"text": "A", "dx": -66, "offset": -5},
"width": 587, "height": 365,
"data": {"name": "a"},
"mark": {"type": "circle"},
"encoding": {
"x": {"field": "x", "type": "quantitative", "scale": {"domain": [-300, 300], "nice": false, "zero": false},
"axis": {"title": "Preceding RR interval - median RR [ms]",
"values": [-300,-290,-280,-270,-260,-250,-240,-230,-220,-210,-200,-190,-180,-170,-160,-150,-140,-130,-120,-110,-100,-90,-80,-70,-60,-50,-40,-30,-20,-10,0,10,20,30,40,50,60,70,80,90,100,110,120,130,140,150,160,170,180,190,200,210,220,230,240,250,260,270,280,290,300],
"labelExpr": "datum.value % 100 === 0 ? '' + datum.value : ''",
"gridOpacity": {"condition": {"test": "datum.value % 100 === 0", "value": 1}, "value": 0},
"gridColor": {"condition": {"test": "datum.value === 0", "value": "#000000"}, "value": "#8c8c8c"},
"gridDash": {"condition": {"test": "datum.value === 0", "value": [1, 0]}, "value": [2, 2]}}},
"y": {"field": "y", "type": "quantitative", "scale": {"domain": [-40, 40], "nice": false, "zero": false},
"axis": {"title": "QT interval - median QT [ms]",
"values": [-40,-38,-36,-34,-32,-30,-28,-26,-24,-22,-20,-18,-16,-14,-12,-10,-8,-6,-4,-2,0,2,4,6,8,10,12,14,16,18,20,22,24,26,28,30,32,34,36,38,40],
"labelExpr": "datum.value % 10 === 0 ? '' + datum.value : ''",
"gridOpacity": {"condition": {"test": "datum.value % 10 === 0", "value": 1}, "value": 0},
"gridColor": {"condition": {"test": "datum.value === 0", "value": "#000000"}, "value": "#8c8c8c"},
"gridDash": {"condition": {"test": "datum.value === 0", "value": [1, 0]}, "value": [2, 2]}}}
}
},
{
"columns": 1,
"spacing": {"row": -24},
"align": "none",
"bounds": "full",
"concat": [
{
"title": {"text": "B", "dx": -66, "offset": 12},
"width": 587, "height": 364,
"data": {"name": "b"},
"mark": {"type": "circle"},
"encoding": {
"x": {"field": "x", "type": "quantitative", "scale": {"domain": [0, 140], "nice": false, "zero": false},
"axis": {"title": "10-second SDRR [ms]",
"values": [0,2,4,6,8,10,12,14,16,18,20,22,24,26,28,30,32,34,36,38,40,42,44,46,48,50,52,54,56,58,60,62,64,66,68,70,72,74,76,78,80,82,84,86,88,90,92,94,96,98,100,102,104,106,108,110,112,114,116,118,120,122,124,126,128,130,132,134,136,138,140],
"labelExpr": "datum.value % 10 === 0 ? '' + datum.value : ''",
"gridOpacity": {"condition": {"test": "datum.value % 10 === 0", "value": 1}, "value": 0}}},
"y": {"field": "y", "type": "quantitative", "scale": {"domain": [0, 20], "nice": false, "zero": false},
"axis": {"title": "10-second SDQT [ms]",
"values": [0,0.5,1,1.5,2,2.5,3,3.5,4,4.5,5,5.5,6,6.5,7,7.5,8,8.5,9,9.5,10,10.5,11,11.5,12,12.5,13,13.5,14,14.5,15,15.5,16,16.5,17,17.5,18,18.5,19,19.5,20],
"labelExpr": "datum.value % 2 === 0 ? '' + datum.value : ''",
"gridOpacity": {"condition": {"test": "datum.value % 2 === 0", "value": 1}, "value": 0}}}
}
},
{
"title": {"text": "C", "dx": -66, "offset": 29},
"width": 591, "height": 364,
"data": {"name": "c"},
"mark": {"type": "circle"},
"encoding": {
"x": {"field": "x", "type": "quantitative", "scale": {"domain": [0, 80], "nice": false, "zero": false},
"axis": {"title": "10-second median beat noise [μV]",
"values": [0,2,4,6,8,10,12,14,16,18,20,22,24,26,28,30,32,34,36,38,40,42,44,46,48,50,52,54,56,58,60,62,64,66,68,70,72,74,76,78,80],
"labelExpr": "datum.value % 10 === 0 ? '' + datum.value : ''",
"gridOpacity": {"condition": {"test": "datum.value % 10 === 0", "value": 1}, "value": 0}}},
"y": {"field": "y", "type": "quantitative", "scale": {"domain": [0, 20], "nice": false, "zero": false},
"axis": {"title": "10-second SDQT [ms]",
"values": [0,0.5,1,1.5,2,2.5,3,3.5,4,4.5,5,5.5,6,6.5,7,7.5,8,8.5,9,9.5,10,10.5,11,11.5,12,12.5,13,13.5,14,14.5,15,15.5,16,16.5,17,17.5,18,18.5,19,19.5,20],
"labelExpr": "datum.value % 2 === 0 ? '' + datum.value : ''",
"gridOpacity": {"condition": {"test": "datum.value % 2 === 0", "value": 1}, "value": 0}}}
}
}
]
}
]
}
